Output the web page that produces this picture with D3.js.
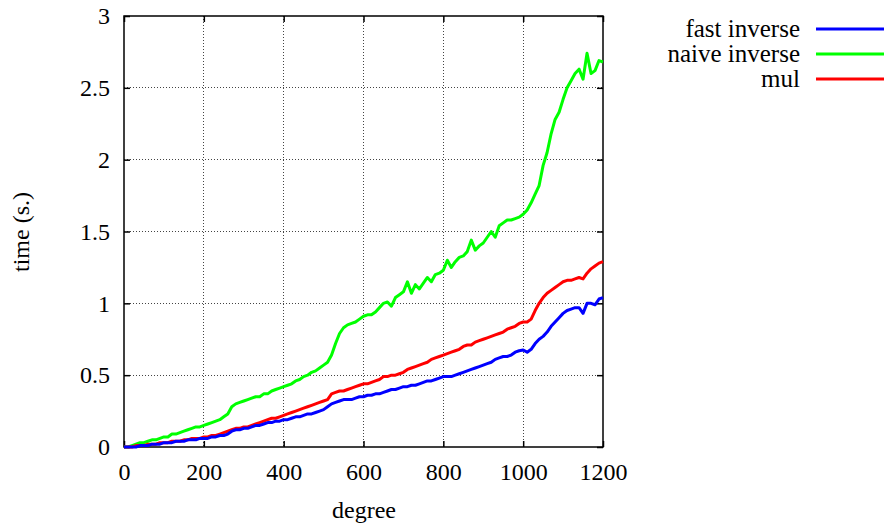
<!DOCTYPE html>
<html>
<head>
<meta charset="utf-8">
<script src="https://cdn.jsdelivr.net/npm/d3@7"></script>
<style>
  body { margin: 0; background: #fff; }
  text { font-family: "Liberation Serif", Tinos, "Times New Roman", Times, "DejaVu Serif", serif; fill: #000; }
</style>
</head>
<body>
<svg id="chart" width="884" height="524"></svg>
<script>
// degree values shared by every series (step 10)
const degrees = d3.range(0, 1201, 10);

const fastInverse = [
  0.00, 0.00, 0.00, 0.00, 0.01, 0.01, 0.01, 0.02, 0.02, 0.02,
  0.03, 0.03, 0.03, 0.04, 0.04, 0.04, 0.05, 0.05, 0.05, 0.06,
  0.06, 0.06, 0.07, 0.07, 0.08, 0.08, 0.09, 0.11, 0.12, 0.12,
  0.13, 0.13, 0.14, 0.15, 0.15, 0.16, 0.17, 0.17, 0.18, 0.18,
  0.19, 0.19, 0.20, 0.21, 0.21, 0.22, 0.23, 0.23, 0.24, 0.25,
  0.26, 0.28, 0.30, 0.31, 0.32, 0.33, 0.33, 0.33, 0.34, 0.35,
  0.35, 0.36, 0.36, 0.37, 0.37, 0.38, 0.39, 0.40, 0.40, 0.41,
  0.42, 0.42, 0.43, 0.43, 0.44, 0.45, 0.46, 0.46, 0.47, 0.48,
  0.49, 0.49, 0.49, 0.50, 0.51, 0.52, 0.53, 0.54, 0.55, 0.56,
  0.57, 0.58, 0.59, 0.61, 0.62, 0.63, 0.63, 0.64, 0.66, 0.67,
  0.675, 0.66, 0.68, 0.72, 0.75, 0.77, 0.80, 0.84, 0.87, 0.90,
  0.93, 0.95, 0.96, 0.97, 0.97, 0.93, 1.00, 1.00, 0.99, 1.03,
  1.04
];

const naiveInverse = [
  0.00, 0.00, 0.01, 0.02, 0.03, 0.03, 0.04, 0.05, 0.05, 0.06,
  0.07, 0.07, 0.09, 0.09, 0.10, 0.11, 0.12, 0.13, 0.14, 0.14,
  0.15, 0.16, 0.17, 0.18, 0.19, 0.21, 0.23, 0.28, 0.30, 0.31,
  0.32, 0.33, 0.34, 0.35, 0.35, 0.37, 0.37, 0.39, 0.40, 0.41,
  0.42, 0.43, 0.44, 0.46, 0.47, 0.49, 0.50, 0.52, 0.53, 0.55,
  0.57, 0.59, 0.64, 0.72, 0.79, 0.83, 0.85, 0.86, 0.87, 0.89,
  0.91, 0.92, 0.92, 0.94, 0.97, 1.00, 1.01, 0.98, 1.04, 1.06,
  1.08, 1.15, 1.07, 1.13, 1.10, 1.14, 1.18, 1.15, 1.20, 1.21,
  1.23, 1.30, 1.25, 1.29, 1.32, 1.33, 1.36, 1.44, 1.37, 1.40,
  1.42, 1.46, 1.50, 1.46, 1.54, 1.56, 1.58, 1.58, 1.59, 1.60,
  1.62, 1.65, 1.70, 1.76, 1.82, 1.96, 2.05, 2.18, 2.28, 2.33,
  2.42, 2.50, 2.55, 2.60, 2.63, 2.56, 2.74, 2.60, 2.62, 2.69,
  2.68
];

const mul = [
  0.00, 0.00, 0.00, 0.01, 0.01, 0.01, 0.02, 0.02, 0.02, 0.03,
  0.03, 0.03, 0.04, 0.04, 0.04, 0.05, 0.05, 0.06, 0.06, 0.06,
  0.07, 0.07, 0.08, 0.08, 0.09, 0.10, 0.11, 0.12, 0.13, 0.13,
  0.14, 0.14, 0.15, 0.16, 0.17, 0.18, 0.19, 0.20, 0.20, 0.21,
  0.22, 0.23, 0.24, 0.25, 0.26, 0.27, 0.28, 0.29, 0.30, 0.31,
  0.32, 0.33, 0.37, 0.38, 0.39, 0.39, 0.40, 0.41, 0.42, 0.43,
  0.44, 0.44, 0.45, 0.46, 0.47, 0.49, 0.49, 0.50, 0.50, 0.51,
  0.52, 0.54, 0.55, 0.56, 0.57, 0.58, 0.59, 0.61, 0.62, 0.63,
  0.64, 0.65, 0.66, 0.67, 0.68, 0.70, 0.71, 0.71, 0.73, 0.74,
  0.75, 0.76, 0.77, 0.78, 0.79, 0.80, 0.82, 0.83, 0.84, 0.86,
  0.87, 0.87, 0.89, 0.95, 1.00, 1.04, 1.07, 1.09, 1.11, 1.13,
  1.15, 1.16, 1.16, 1.17, 1.18, 1.17, 1.21, 1.24, 1.26, 1.28,
  1.29
];

const seriesNames = ['fast inverse', 'naive inverse', 'mul'];
const seriesColors = ['#0000ff', '#00ff00', '#ff0000'];
const seriesValues = [fastInverse, naiveInverse, mul];
// draw order: green below, then red, then blue on top
const drawOrder = [1, 2, 0];

const xTicks = [0, 200, 400, 600, 800, 1000, 1200];
const yTicks = [0, 0.5, 1, 1.5, 2, 2.5, 3];

const svg = d3.select('#chart');
const plotLeft = 124, plotRight = 603, plotTop = 16, plotBottom = 447;

let x = d3.scaleLinear().domain([0, 1200]).range([plotLeft, plotRight]);
let y = d3.scaleLinear().domain([0, 3]).range([plotBottom, plotTop]);

// grid
let grid = svg.append('g').attr('class', 'grid');
grid.selectAll('.vgrid').data(xTicks.slice(1, -1)).enter().append('line')
  .attr('x1', d => x(d)).attr('x2', d => x(d))
  .attr('y1', plotTop).attr('y2', plotBottom);
grid.selectAll('.hgrid').data(yTicks.slice(1, -1)).enter().append('line')
  .attr('x1', plotLeft).attr('x2', plotRight)
  .attr('y1', d => y(d)).attr('y2', d => y(d));
grid.selectAll('line')
  .attr('stroke', '#444').attr('stroke-width', 1)
  .attr('stroke-dasharray', '1,2').attr('shape-rendering', 'crispEdges');

// axes (ticks point inward on all four sides)
let xAxis = svg.append('g').attr('transform', 'translate(0,' + plotBottom + ')')
  .call(d3.axisBottom(x).tickValues(xTicks).tickFormat(d3.format('d')).tickSize(-6).tickPadding(16));
let xAxisTop = svg.append('g').attr('transform', 'translate(0,' + plotTop + ')')
  .call(d3.axisTop(x).tickValues(xTicks).tickFormat('').tickSize(-6));
let yAxis = svg.append('g').attr('transform', 'translate(' + plotLeft + ',0)')
  .call(d3.axisLeft(y).tickValues(yTicks).tickFormat(d => d).tickSize(-6).tickPadding(14));
let yAxisRight = svg.append('g').attr('transform', 'translate(' + plotRight + ',0)')
  .call(d3.axisRight(y).tickValues(yTicks).tickFormat('').tickSize(-6));

[xAxis, xAxisTop, yAxis, yAxisRight].forEach(a => {
  a.attr('font-family', null).attr('font-size', null);
  a.select('.domain').remove();
  a.selectAll('.tick line').attr('stroke', '#000').attr('stroke-width', 1.5);
  a.selectAll('text').style('font-size', '24px').attr('fill', '#000');
});

// frame
svg.append('rect')
  .attr('x', plotLeft).attr('y', plotTop)
  .attr('width', plotRight - plotLeft).attr('height', plotBottom - plotTop)
  .attr('fill', 'none').attr('stroke', '#000').attr('stroke-width', 1.5);

// lines
let line = d3.line().x((d, i) => x(degrees[i])).y(d => y(d));
svg.append('g').selectAll('path').data(drawOrder).enter().append('path')
  .attr('d', k => line(seriesValues[k]))
  .attr('fill', 'none')
  .attr('stroke', k => seriesColors[k])
  .attr('stroke-width', 3)
  .attr('stroke-linejoin', 'round');

// axis labels
svg.append('text').attr('x', 364).attr('y', 518)
  .attr('text-anchor', 'middle').style('font-size', '24px').text('degree');
svg.append('text').attr('transform', 'translate(29,232) rotate(-90)')
  .attr('text-anchor', 'middle').style('font-size', '24px').text('time (s.)');

// legend
let legend = svg.append('g').selectAll('g').data(seriesNames).enter().append('g')
  .attr('transform', (d, i) => 'translate(0,' + (29 + i * 25) + ')');
legend.append('text').attr('x', 800).attr('y', 8)
  .attr('text-anchor', 'end').style('font-size', '25px').text(d => d);
legend.append('line').attr('x1', 816).attr('x2', 884).attr('y1', 0).attr('y2', 0)
  .attr('stroke', (d, i) => seriesColors[i]).attr('stroke-width', 3);
</script>
</body>
</html>
